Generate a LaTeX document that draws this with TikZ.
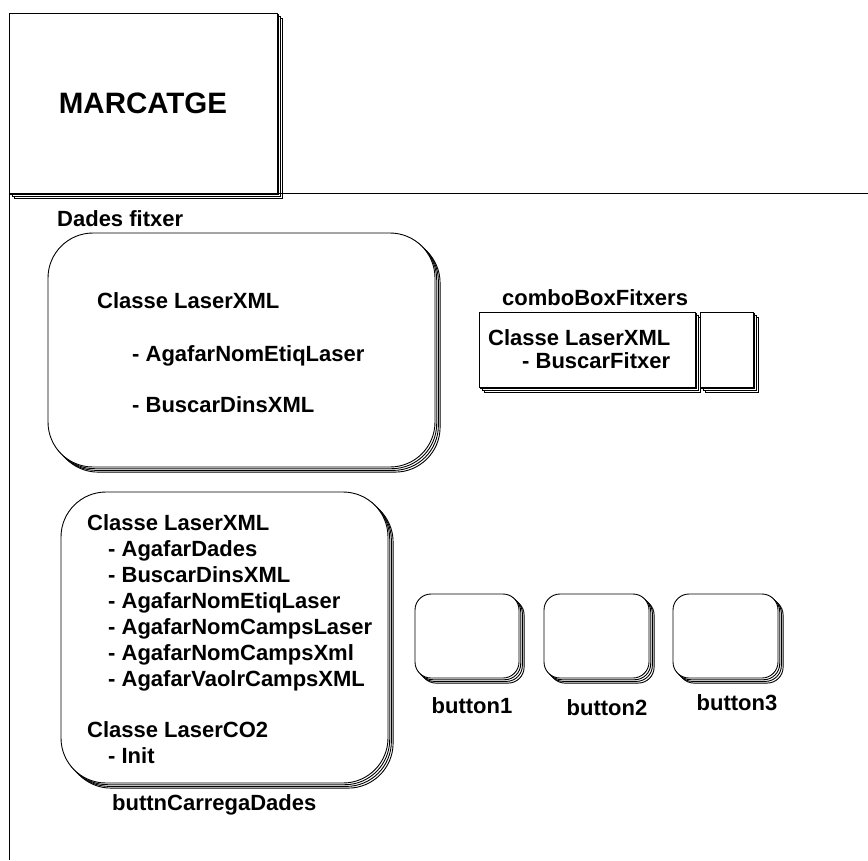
\documentclass[tikz,border=0pt]{standalone}
\usepackage{fontspec}
\setmainfont{Liberation Sans}
\usetikzlibrary{shadows}

\tikzset{
  outline/.style={draw=black, fill=white, line width=0.9pt},
  stacked/.style={outline,
    general shadow={outline, shadow xshift=5.1pt, shadow yshift=-5.1pt},
    general shadow={outline, shadow xshift=3.4pt, shadow yshift=-3.4pt},
    general shadow={outline, shadow xshift=1.7pt, shadow yshift=-1.7pt}},
  panel/.style={stacked, rectangle, inner sep=0pt, outer sep=0pt, anchor=north west},
  roundpanel/.style={panel, rounded corners=45pt},
  btnpanel/.style={panel, rounded corners=16pt, minimum width=105pt, minimum height=84pt},
  lbl/.style={anchor=base west, inner sep=0pt, font=\bfseries\fontsize{22}{26}\selectfont},
  clbl/.style={lbl, anchor=base},
  frame/.style={draw=black, line width=1pt},
}

\begin{document}
\begin{tikzpicture}[x=1pt, y=-1pt]
  \useasboundingbox (0,0) rectangle (868,860);

  % title block
  \node[panel, minimum width=268pt, minimum height=180pt,
        font=\bfseries\fontsize{29.5}{34}\selectfont] (marc) at (9,13) {MARCATGE};

  % page frame
  \coordinate (fTop) at (9,13);
  \coordinate (fBot) at (9,860);
  \coordinate (hL) at (9,193);
  \coordinate (hR) at (868,193);
  \draw[frame] (hL) -- (hR);
  \draw[frame] (fTop) -- (fBot);

  % file data panel
  \node[lbl] (dadesLbl) at (57,226.5) {Dades fitxer};
  \node[roundpanel, minimum width=387pt, minimum height=234pt] (dades) at (48,233) {};
  \node[lbl] (d1) at (97,308) {Classe LaserXML};
  \node[lbl] (d2) at (132,361) {- AgafarNomEtiqLaser};
  \node[lbl] (d3) at (132,412) {- BuscarDinsXML};

  % combo box
  \node[lbl] (comboLbl) at (502,305) {comboBoxFitxers};
  \node[panel, minimum width=216pt, minimum height=75pt] (combo) at (479,312) {};
  \node[panel, minimum width=53pt, minimum height=75pt] (comboArrow) at (700,312) {};
  \node[lbl] (c1) at (488,345) {Classe LaserXML};
  \node[lbl] (c2) at (522,368) {- BuscarFitxer};

  % load button panel
  \node[roundpanel, minimum width=327pt, minimum height=291pt] (carrega) at (61,492) {};
  \node[lbl] (l1) at (87,530) {Classe LaserXML};
  \node[lbl] (l2) at (108,556) {- AgafarDades};
  \node[lbl] (l3) at (108,582) {- BuscarDinsXML};
  \node[lbl] (l4) at (108,608) {- AgafarNomEtiqLaser};
  \node[lbl] (l5) at (108,634) {- AgafarNomCampsLaser};
  \node[lbl] (l6) at (108,660) {- AgafarNomCampsXml};
  \node[lbl] (l7) at (108,686) {- AgafarVaolrCampsXML};
  \node[lbl] (l8) at (87,737) {Classe LaserCO2};
  \node[lbl] (l9) at (108,763) {- Init};
  \node[lbl] (carregaLbl) at (112,810) {buttnCarregaDades};

  % buttons
  \node[btnpanel, minimum width=104pt] (b1) at (415,594) {};
  \node[btnpanel] (b2) at (544,594) {};
  \node[btnpanel] (b3) at (673,594) {};
  \node[clbl] (b1Lbl) at (472,713) {button1};
  \node[clbl] (b2Lbl) at (607,715) {button2};
  \node[clbl] (b3Lbl) at (737,710) {button3};
\end{tikzpicture}
\end{document}
